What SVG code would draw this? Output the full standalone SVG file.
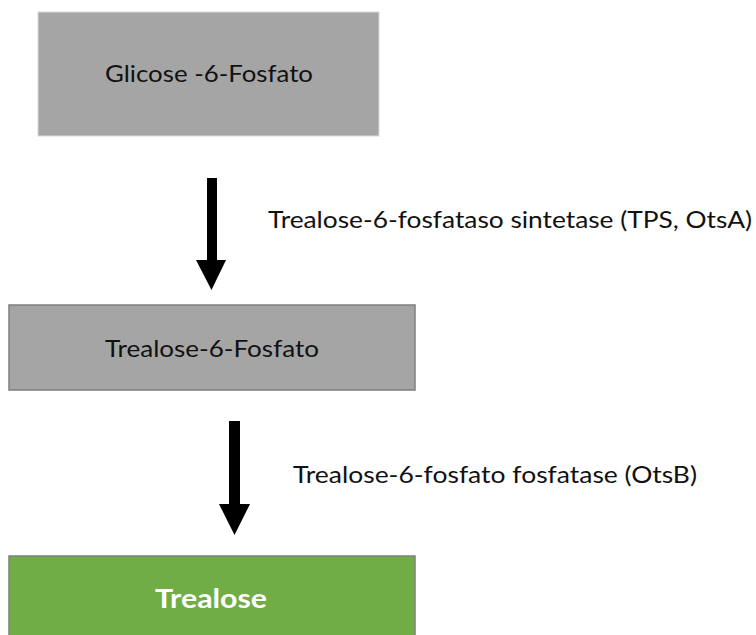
<svg xmlns="http://www.w3.org/2000/svg" width="756" height="635" viewBox="0 0 756 635">
<style>
.box{fill:#a5a5a5;stroke:#7f7f7f;stroke-width:1.5}
.t{font-family:Lato,"Open Sans","Liberation Sans",sans-serif;font-size:24px;fill:#111}
.arrow{fill:#000}
</style>
<rect width="756" height="635" fill="#fff"/>
<g id="node-g6p">
<rect x="38" y="12" width="341" height="124" fill="#a5a5a5" stroke="#d9d9d9" stroke-width="1"/>
<text class="t" x="209" y="82" text-anchor="middle" textLength="208" lengthAdjust="spacingAndGlyphs">Glicose -6-Fosfato</text>
</g>
<g id="node-t6p">
<rect class="box" x="9" y="305" width="406" height="85"/>
<text class="t" x="212" y="357" text-anchor="middle" textLength="214" lengthAdjust="spacingAndGlyphs">Trealose-6-Fosfato</text>
</g>
<g id="node-trealose">
<rect x="9" y="556" width="406" height="84" fill="#70ad47" stroke="#7f7f7f" stroke-width="1.5"/>
<text x="211" y="608" text-anchor="middle" font-family="Lato,'Open Sans','Liberation Sans',sans-serif" font-size="26" font-weight="bold" fill="#fff" textLength="112" lengthAdjust="spacingAndGlyphs">Trealose</text>
</g>
<g id="connectors">
<polygon class="arrow" points="207,178 217,178 217,260 226,260 211.5,290 196,260 207,260"/>
<text class="t" x="268" y="228" textLength="484" lengthAdjust="spacingAndGlyphs">Trealose-6-fosfataso sintetase (TPS, OtsA)</text>
<polygon class="arrow" points="229,421 240,421 240,504 250,504 234.5,535 219,504 229,504"/>
<text class="t" x="293" y="483" textLength="404" lengthAdjust="spacingAndGlyphs">Trealose-6-fosfato fosfatase (OtsB)</text>
</g>
</svg>
